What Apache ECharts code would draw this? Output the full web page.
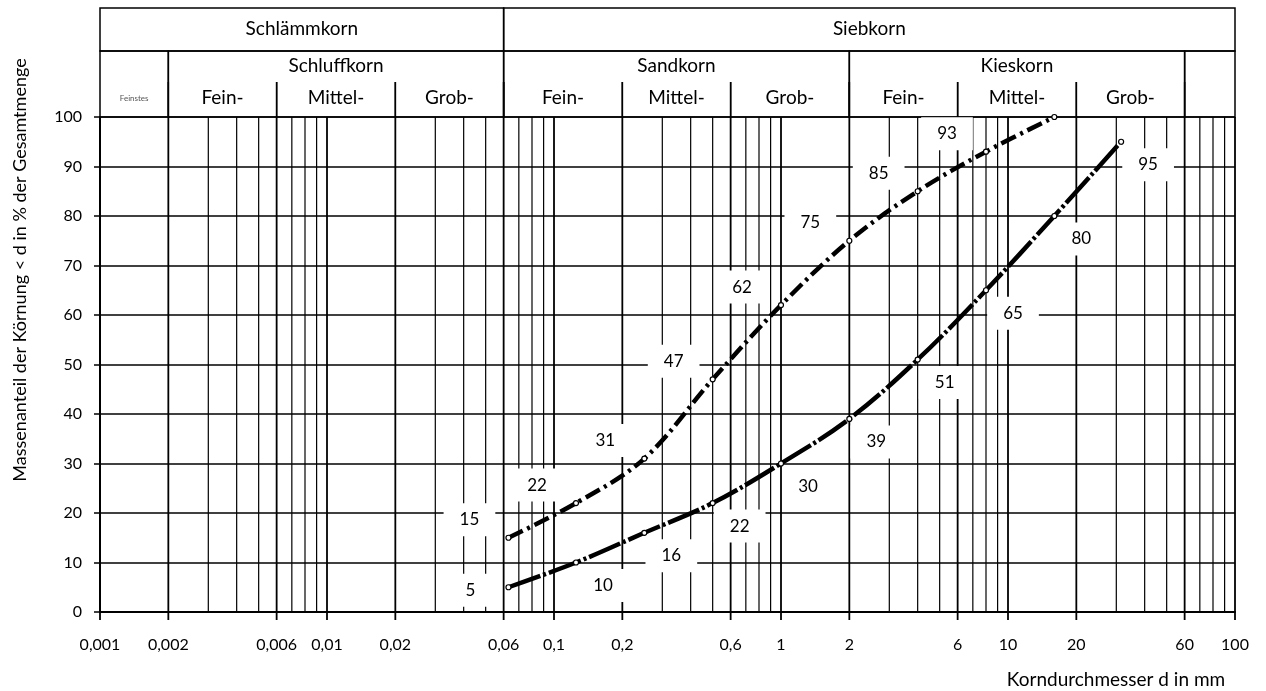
<!DOCTYPE html>
<html>
<head>
<meta charset="utf-8">
<script src="https://cdn.jsdelivr.net/npm/echarts@6/dist/echarts.min.js"></script>
<style>
html, body { margin: 0; padding: 0; background: #fff; }
#chart { width: 1266px; height: 691px; }
</style>
</head>
<body>
<div id="chart"></div>
<script>
// Siebgrößen (mm) und Siebdurchgänge (%)
var sieveSizes = [0.063, 0.125, 0.25, 0.5, 1, 2, 4, 8, 16, 31.5];
var upperPassing = [15, 22, 31, 47, 62, 75, 85, 93, 100];
var lowerPassing = [5, 10, 16, 22, 30, 39, 51, 65, 80, 95];

// Achsbeschriftung x
var tickValues = [0.001, 0.002, 0.006, 0.01, 0.02, 0.06, 0.1, 0.2, 0.6, 1, 2, 6, 10, 20, 60, 100];
var tickLabels = ['0,001', '0,002', '0,006', '0,01', '0,02', '0,06', '0,1', '0,2', '0,6', '1', '2', '6', '10', '20', '60', '100'];

// Kopfzeilen
var mainGroups = [['Schlämmkorn', 0.001, 0.06], ['Siebkorn', 0.06, 100]];
var soilGroups = [['Feinstes', 0.001, 0.002], ['Schluffkorn', 0.002, 0.06], ['Sandkorn', 0.06, 2], ['Kieskorn', 2, 60], ['', 60, 100]];
var fractions = [
    ['Fein-', 0.002, 0.006], ['Mittel-', 0.006, 0.02], ['Grob-', 0.02, 0.06],
    ['Fein-', 0.06, 0.2], ['Mittel-', 0.2, 0.6], ['Grob-', 0.6, 2],
    ['Fein-', 2, 6], ['Mittel-', 6, 20], ['Grob-', 20, 60]
];

var FONT = 'Lato, "Open Sans", sans-serif';

var headerCells = [];
mainGroups.forEach(function (g) { headerCells.push([0, g[0], g[1], g[2]]); });
soilGroups.forEach(function (g) { headerCells.push([1, g[0], g[1], g[2]]); });
fractions.forEach(function (g) { headerCells.push([2, g[0], g[1], g[2]]); });

// senkrechte Gitterlinien 1..9 je Dekade
var gridValues = [];
for (var e = -3; e <= 1; e++) {
    for (var m = 1; m <= 9; m++) {
        gridValues.push(parseFloat((m * Math.pow(10, e)).toPrecision(3)));
    }
}
gridValues.push(100);

function tickIndex(v) {
    for (var i = 0; i < tickValues.length; i++) {
        if (Math.abs(tickValues[i] - v) / v < 1e-6) return i;
    }
    return -1;
}

function renderGridLine(params, api) {
    var v = gridValues[params.dataIndex];
    var top = api.coord([v, 100]);
    var bottom = api.coord([v, 0]);
    var idx = tickIndex(v);
    var children = [{
        type: 'line',
        shape: { x1: top[0], y1: top[1], x2: bottom[0], y2: bottom[1] + (idx >= 0 ? 8 : 0) },
        style: { stroke: '#000', lineWidth: idx >= 0 ? 1.8 : 1.2 }
    }];
    if (idx >= 0) {
        children.push({
            type: 'text',
            style: {
                text: tickLabels[idx], x: bottom[0], y: bottom[1] + 33,
                align: 'center', verticalAlign: 'middle',
                fontSize: 16, fontFamily: FONT, fill: '#000'
            }
        });
    }
    return { type: 'group', children: children };
}

function renderHeader(params, api) {
    var cell = headerCells[params.dataIndex];
    var a = api.coord([cell[2], 100]);
    var b = api.coord([cell[3], 100]);
    var y0 = a[1];
    var cx = (a[0] + b[0]) / 2;
    var stroke = { stroke: '#000', lineWidth: 1.5, fill: null };
    var children = [];
    if (cell[0] === 0) {
        children.push({ type: 'rect', shape: { x: a[0], y: y0 - 109, width: b[0] - a[0], height: 43 }, style: stroke });
        children.push({ type: 'text', style: { text: cell[1], x: cx, y: y0 - 88, align: 'center', verticalAlign: 'middle', fontSize: 19, fontFamily: FONT, fill: '#000' } });
    } else if (cell[0] === 1) {
        children.push({ type: 'rect', shape: { x: a[0], y: y0 - 66, width: b[0] - a[0], height: 66 }, style: stroke });
        if (cell[1] === 'Feinstes') {
            children.push({ type: 'text', style: { text: cell[1], x: cx, y: y0 - 19, align: 'center', verticalAlign: 'middle', fontSize: 8, fontFamily: FONT, fill: '#555' } });
        } else {
            children.push({ type: 'text', style: { text: cell[1], x: cx, y: y0 - 51, align: 'center', verticalAlign: 'middle', fontSize: 19, fontFamily: FONT, fill: '#000' } });
        }
    } else {
        children.push({ type: 'line', shape: { x1: a[0], y1: y0 - 35, x2: a[0], y2: y0 }, style: { stroke: '#000', lineWidth: 1.5 } });
        children.push({ type: 'line', shape: { x1: b[0], y1: y0 - 35, x2: b[0], y2: y0 }, style: { stroke: '#000', lineWidth: 1.5 } });
        children.push({ type: 'text', style: { text: cell[1], x: cx, y: y0 - 19, align: 'center', verticalAlign: 'middle', fontSize: 19, fontFamily: FONT, fill: '#000' } });
    }
    return { type: 'group', children: children };
}

function curveData(values, firstOffset) {
    return values.map(function (v, i) {
        var item = { value: [sieveSizes[i], v] };
        if (v >= 100) {
            item.label = { show: false };
        } else if (i === 0 && firstOffset) {
            item.label = { offset: firstOffset };
        }
        return item;
    });
}

function curveLabel(offset) {
    return {
        show: true,
        position: 'inside',
        offset: offset,
        formatter: function (p) { return p.value[1]; },
        backgroundColor: '#fff',
        padding: [8, 16],
        fontSize: 17,
        fontFamily: FONT,
        color: '#000'
    };
}

var chart = echarts.init(document.getElementById('chart'));
var option = {
    animation: false,
    backgroundColor: '#fff',
    grid: { left: 100, right: 31, top: 117, bottom: 79 },
    xAxis: {
        type: 'log',
        logBase: 10,
        min: 0.001,
        max: 100,
        axisLine: { show: true, onZero: false, lineStyle: { color: '#000', width: 2 } },
        axisTick: { show: false },
        axisLabel: { show: false },
        splitLine: { show: false }
    },
    yAxis: {
        type: 'value',
        min: 0,
        max: 100,
        interval: 10,
        axisLine: { show: true, lineStyle: { color: '#000', width: 2 } },
        axisTick: { show: true, length: 6, lineStyle: { color: '#000', width: 1.5 } },
        axisLabel: { color: '#000', fontSize: 16, fontFamily: FONT, margin: 18 },
        splitLine: { show: true, lineStyle: { color: '#000', width: 1.5 } }
    },
    graphic: [
        {
            type: 'text', x: 20, y: 270, rotation: Math.PI / 2,
            style: {
                text: 'Massenanteil der Körnung < d in % der Gesamtmenge',
                align: 'center', verticalAlign: 'middle',
                fontSize: 18, fontFamily: FONT, fill: '#000'
            }
        },
        {
            type: 'text', x: 1116, y: 680,
            style: {
                text: 'Korndurchmesser d in mm', align: 'center', verticalAlign: 'middle',
                fontSize: 19, fontFamily: FONT, fill: '#000'
            }
        }
    ],
    series: [
        {
            type: 'custom',
            z: 1,
            clip: false,
            silent: true,
            renderItem: renderGridLine,
            encode: { x: 0, y: 1 },
            data: gridValues.map(function (v) { return [v, 0]; })
        },
        {
            type: 'custom',
            z: 1,
            clip: false,
            silent: true,
            renderItem: renderHeader,
            encode: { x: [0, 1], y: 2 },
            data: headerCells.map(function (c) { return [c[2], c[3], 100]; })
        },
        {
            name: 'obere Sieblinie',
            type: 'line',
            z: 5,
            smooth: 0.35,
            symbol: 'circle',
            symbolSize: 5,
            itemStyle: { color: '#fff', borderColor: '#000', borderWidth: 1.2 },
            lineStyle: { color: '#000', width: 4.5, type: [16, 5, 3, 5] },
            label: curveLabel([-39, -18]),
            data: curveData(upperPassing, null)
        },
        {
            name: 'untere Sieblinie',
            type: 'line',
            z: 5,
            smooth: 0.35,
            symbol: 'circle',
            symbolSize: 5,
            itemStyle: { color: '#fff', borderColor: '#000', borderWidth: 1.2 },
            lineStyle: { color: '#000', width: 4.5, type: [34, 3, 3, 3] },
            label: curveLabel([27, 23]),
            data: curveData(lowerPassing, [-38, 3])
        }
    ]
};
chart.setOption(option);
</script>
</body>
</html>
